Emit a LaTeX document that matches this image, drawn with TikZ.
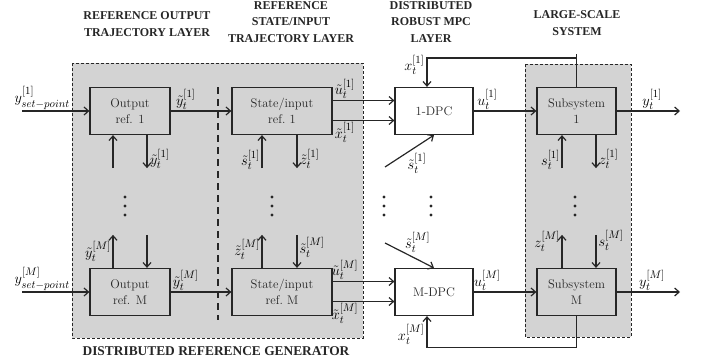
\documentclass[tikz,border=0pt]{standalone}
\usepackage{amsmath,amssymb}
\usepackage{fontspec}
\usepackage{tikz}
\usetikzlibrary{positioning,arrows.meta}
\newfontfamily\ttlfont{Liberation Serif}
\DeclareMathSizes{15}{15}{11}{8}
\definecolor{Panel}{HTML}{D3D3D3}
\definecolor{Ink}{HTML}{262626}

\begin{document}
\begin{tikzpicture}[x=1pt,y=-1pt,font=\fontsize{15}{17}\selectfont,
  blk/.style={draw=Ink,line width=1.2pt,fill=Panel,minimum height=47pt,align=center,text=Ink,font=\fontsize{12.5}{16}\selectfont},
  arr/.style={draw=Ink,line width=1.2pt,-{Straight Barb[length=4.5pt,width=8pt]}},
  ttl/.style={align=center,text=Ink,font=\ttlfont\bfseries\fontsize{12}{16.5}\selectfont}]
  \useasboundingbox (0,0) rectangle (702,364);
  \draw[Ink,line width=1pt,densely dashed,fill=Panel] (72,63) rectangle (363,338);
  \draw[Ink,line width=1pt,densely dashed,fill=Panel] (525,64) rectangle (631,337);
  \draw[Ink,line width=1.2pt,dash pattern=on 7pt off 5pt] (218,87) -- (218,320);

  \node[ttl] (t1) at (147,24) {REFERENCE OUTPUT\\TRAJECTORY LAYER};
  \node[ttl] (t2) at (291,22) {REFERENCE\\STATE/INPUT\\TRAJECTORY LAYER};
  \node[ttl] (t3) at (431,22) {DISTRIBUTED\\ROBUST MPC\\LAYER};
  \node[ttl] (t4) at (577,23) {LARGE-SCALE\\SYSTEM};
  \node[ttl,font=\ttlfont\bfseries\fontsize{13.4}{15}\selectfont] (t5) at (216,351) {DISTRIBUTED REFERENCE GENERATOR};

  \node[blk,minimum width=80pt] (out1) at (130,111) {Output\\ref. 1};
  \node[blk,minimum width=80pt] (outM) at (130,292) {Output\\ref. M};
  \node[blk,minimum width=100pt] (si1) at (282,111) {State/input\\ref.\ 1};
  \node[blk,minimum width=100pt] (siM) at (282,292) {State/input\\ref.\ M};
  \node[blk,minimum width=78pt,fill=white] (dpc1) at (434,111) {1-DPC};
  \node[blk,minimum width=78pt,fill=white] (dpcM) at (434,292) {M-DPC};
  \node[blk,minimum width=79pt] (sub1) at (576.5,111) {Subsystem\\1};
  \node[blk,minimum width=79pt] (subM) at (576.5,292) {Subsystem\\M};

  \coordinate (in1) at (22,111);
  \coordinate (inM) at (22,292);
  \coordinate (y1) at (680,111);
  \coordinate (yM) at (680,292);
  \coordinate (s1) at (385,167);
  \coordinate (sM) at (385,243);

  \draw[arr] (in1) -- node[above,pos=0.3,inner sep=1pt] {$y^{[1]}_{set-point}$} (out1);
  \draw[arr] (inM) -- node[above,pos=0.3,inner sep=1pt] {$y^{[M]}_{set-point}$} (outM);
  \draw[arr] (out1) -- node[above,pos=0.25,inner sep=1pt] {$\tilde{y}_t^{[1]}$} (si1);
  \draw[arr] (outM) -- node[above,pos=0.25,inner sep=1pt] {$\tilde{y}_t^{[M]}$} (siM);
  \foreach \r/\k in {1/1,M/M}{
    \draw[arr] ([yshift=10.5pt]si\r.east) -- node[above,pos=0.2,inner sep=1pt] {$\tilde{u}_t^{[\k]}$} ([yshift=10.5pt]dpc\r.west);
    \draw[arr] ([yshift=-9.5pt]si\r.east) -- node[below,pos=0.2,inner sep=1pt] {$\tilde{x}_t^{[\k]}$} ([yshift=-9.5pt]dpc\r.west);
    \draw[arr] (dpc\r) -- node[above,pos=0.22,inner sep=1pt] {$u_t^{[\k]}$} (sub\r);
    \draw[arr] (sub\r) -- node[above,pos=0.56,inner sep=1pt] {$y_t^{[\k]}$} (y\r);
  }
  \draw[Ink,line width=1.2pt] (sub1.north) -- ++(0,-33);
  \draw[arr] ([yshift=29pt]sub1.north) -| node[left,pos=0.62,inner sep=2pt] {$x_t^{[1]}$} ([xshift=-7pt]dpc1.north);
  \draw[arr] (subM.south) -- ++(0,31) -| node[left,pos=0.7,inner sep=2pt] {$x_t^{[M]}$} ([xshift=-7pt]dpcM.south);
  \draw[arr] (s1) -- node[below right,pos=0.45,inner sep=0pt] {$\tilde{s}_t^{[1]}$} (dpc1.south);
  \draw[arr] (sM) -- node[above right,pos=0.4,inner sep=0pt] {$\tilde{s}_t^{[M]}$} (dpcM.north);

  \foreach \n/\a/\b/\la/\lb in {out1/-17/17//\tilde{y}_t^{[1]},si1/-20/15/\tilde{s}_t^{[1]}/\tilde{z}_t^{[1]},sub1/-14.5/19.5/s_t^{[1]}/z_t^{[1]}}{
    \draw[arr] ([xshift=\a pt,yshift=-33pt]\n.south) -- node[left,pos=0.25,inner sep=1.5pt] {$\la$} ([xshift=\a pt]\n.south);
    \draw[arr] ([xshift=\b pt]\n.south) -- node[right,pos=0.72,inner sep=2.5pt] {$\lb$} ([xshift=\b pt,yshift=-33pt]\n.south);
  }
  \foreach \n/\a/\b/\la/\lb/\p/\q in {outM/-17/17/\tilde{y}_t^{[M]}//0.5/0.4,siM/-20/15/\tilde{z}_t^{[M]}/\tilde{s}_t^{[M]}/0.55/0.38,subM/-14.5/19.5/z_t^{[M]}/s_t^{[M]}/0.8/0.17}{
    \draw[arr] ([xshift=\a pt]\n.north) -- node[left,pos=\p,inner sep=1.5pt] {$\la$} ([xshift=\a pt,yshift=33pt]\n.north);
    \draw[arr] ([xshift=\b pt,yshift=33pt]\n.north) -- node[right,pos=\q,inner sep=2pt] {$\lb$} ([xshift=\b pt]\n.north);
  }

  \foreach \x in {125,272,384,431,575}{\foreach \y in {197,206,215}{\fill[Ink] (\x,\y) circle (1.6pt);}}
\end{tikzpicture}
\end{document}
